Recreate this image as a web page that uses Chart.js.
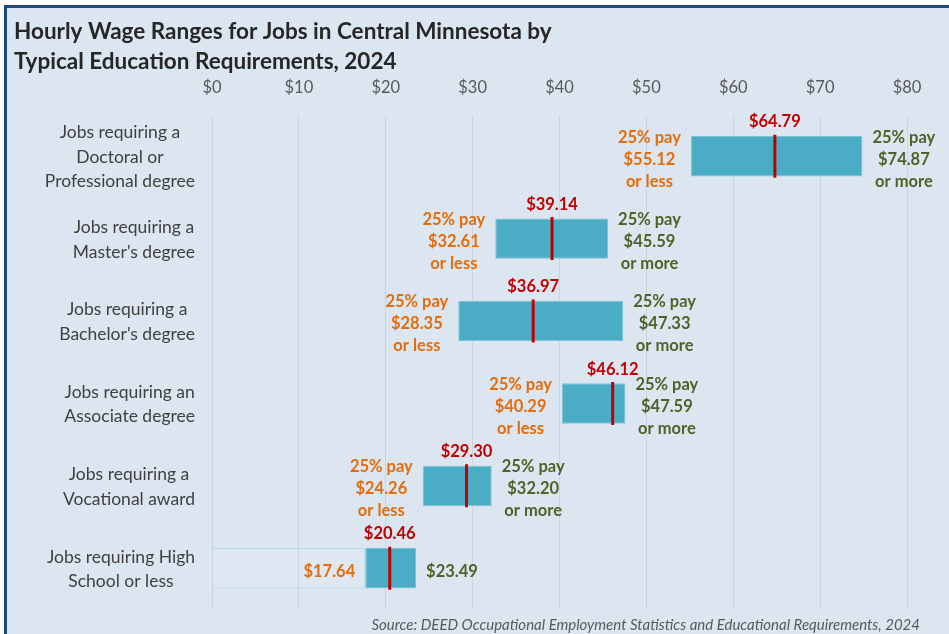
<!DOCTYPE html>
<html>
<head>
<meta charset="utf-8">
<script src="https://cdn.jsdelivr.net/npm/chart.js@4/dist/chart.umd.min.js"></script>
<style>
  body { margin: 0; background: #fff; }
  #frame {
    position: absolute; left: 4px; top: 5px;
    width: 942px; height: 626px;
    border-left: 3px solid #1f497d; border-top: 3px solid #1f497d;
    background: #dce6f1;
  }
  canvas { display: block; }
</style>
</head>
<body>
<div id="frame"><canvas id="wage-chart" width="942" height="626"></canvas></div>
<script>
var categories = [
  ["Jobs requiring a", "Doctoral or", "Professional degree"],
  ["Jobs requiring a", "Master's degree"],
  ["Jobs requiring a", "Bachelor's degree"],
  ["Jobs requiring an", "Associate degree"],
  ["Jobs requiring a", "Vocational award"],
  ["Jobs requiring High", "School or less"]
];
var lowWages = [55.12, 32.61, 28.35, 40.29, 24.26, 17.64];    // 25th percentile
var medianWages = [64.79, 39.14, 36.97, 46.12, 29.30, 20.46];
var highWages = [74.87, 45.59, 47.33, 47.59, 32.20, 23.49];   // 75th percentile
var longLabels = [true, true, true, true, true, false];
var axisMin = 0, axisMax = 80, axisStep = 10;

var titleLines = ["Hourly Wage Ranges for Jobs in Central Minnesota by", "Typical Education Requirements, 2024"];
var sourceText = "Source: DEED Occupational Employment Statistics and Educational Requirements, 2024";

var boxData = lowWages.map(function (v, i) { return [v, highWages[i]]; });

function money(v) { return "$" + v.toFixed(2); }

var labelPlugin = {
  id: "wageLabels",
  afterDatasetsDraw: function (chart) {
    var ctx = chart.ctx;
    var xs = chart.scales.x, ys = chart.scales.y;
    var meta = chart.getDatasetMeta(1);
    ctx.save();
    ctx.textBaseline = "middle";

    // category labels: block right aligned, lines centred inside
    ctx.font = "17.5px Lato";
    ctx.fillStyle = "#404040";
    categories.forEach(function (lines, i) {
      var cy = ys.getPixelForValue(i) + 1;
      var w = Math.max.apply(null, lines.map(function (l) { return ctx.measureText(l).width; }));
      var cx = 188 - w / 2;
      ctx.textAlign = "center";
      lines.forEach(function (l, k) {
        ctx.fillText(l, cx, cy + (k - (lines.length - 1) / 2) * 24.5);
      });
    });

    ctx.font = "bold 16.5px Lato";
    meta.data.forEach(function (bar, i) {
      var p = bar.getProps(["x", "base", "y", "height"], true);
      var left = Math.min(p.x, p.base), right = Math.max(p.x, p.base);
      var top = p.y - p.height / 2;

      ctx.textAlign = "center";
      ctx.fillStyle = "#c00000";
      ctx.fillText(money(medianWages[i]), xs.getPixelForValue(medianWages[i]), top - 14);

      var lowLines = longLabels[i] ? ["25% pay", money(lowWages[i]), "or less"] : [money(lowWages[i])];
      var highLines = longLabels[i] ? ["25% pay", money(highWages[i]), "or more"] : [money(highWages[i])];

      var wl = Math.max.apply(null, lowLines.map(function (l) { return ctx.measureText(l).width; }));
      ctx.fillStyle = "#e46c0a";
      lowLines.forEach(function (l, k) {
        ctx.fillText(l, left - 10 - wl / 2, p.y + 3 + (k - (lowLines.length - 1) / 2) * 22);
      });

      var wh = Math.max.apply(null, highLines.map(function (l) { return ctx.measureText(l).width; }));
      ctx.fillStyle = "#4f6228";
      highLines.forEach(function (l, k) {
        ctx.fillText(l, right + 10 + wh / 2, p.y + 3 + (k - (highLines.length - 1) / 2) * 22);
      });
    });

    ctx.font = "italic 15px Lato";
    ctx.fillStyle = "#595959";
    ctx.textAlign = "right";
    ctx.fillText(sourceText, 913, 617);
    ctx.restore();
  }
};

var ctx = document.getElementById("wage-chart").getContext("2d");

var wageChart = new Chart(ctx, {
  type: "bar",
  data: {
    labels: categories,
    datasets: [
      {
        // invisible part from $0 to 25th percentile
        data: lowWages,
        order: 3,
        grouped: false,
        backgroundColor: ["transparent", "transparent", "transparent", "transparent", "transparent", "rgba(255,255,255,0.1)"],
        borderColor: ["transparent", "transparent", "transparent", "transparent", "transparent", "#b7dde8"],
        borderWidth: 1,
        barPercentage: 0.49,
        categoryPercentage: 1
      },
      {
        data: boxData,
        order: 2,
        grouped: false,
        backgroundColor: "#4bacc6",
        borderColor: "#7cc3d6",
        borderWidth: 1,
        borderSkipped: false,
        barPercentage: 0.49,
        categoryPercentage: 1
      },
      {
        // median marker
        type: "line",
        data: medianWages,
        order: 1,
        showLine: false,
        pointStyle: "line",
        rotation: 90,
        pointRadius: 21.5,
        pointHoverRadius: 21.5,
        pointBorderWidth: 3,
        pointBorderColor: "#c00000",
        borderColor: "#c00000"
      }
    ]
  },
  plugins: [labelPlugin],
  options: {
    indexAxis: "y",
    responsive: false,
    animation: false,
    events: [],
    layout: { padding: { left: 7, right: 42, top: 0, bottom: 16 } },
    plugins: {
      legend: { display: false },
      tooltip: { enabled: false },
      title: {
        display: true,
        text: titleLines,
        align: "start",
        color: "#262626",
        font: { family: "Lato", size: 22.5, weight: "bold", lineHeight: 1.333 },
        padding: { top: 9, bottom: 0 }
      }
    },
    scales: {
      x: {
        position: "top",
        min: axisMin,
        max: axisMax,
        border: { display: false },
        grid: { color: "rgba(200,192,188,0.5)", drawTicks: false },
        ticks: {
          stepSize: axisStep,
          padding: 17,
          color: "#595959",
          font: { family: "Lato", size: 16.5 },
          callback: function (v) { return "$" + v; }
        },
        afterFit: function (scale) { scale.height = 38; }
      },
      y: {
        border: { display: false },
        grid: { display: false },
        ticks: { display: false },
        afterFit: function (scale) { scale.width = 198; }
      }
    }
  }
});
</script>
</body>
</html>
